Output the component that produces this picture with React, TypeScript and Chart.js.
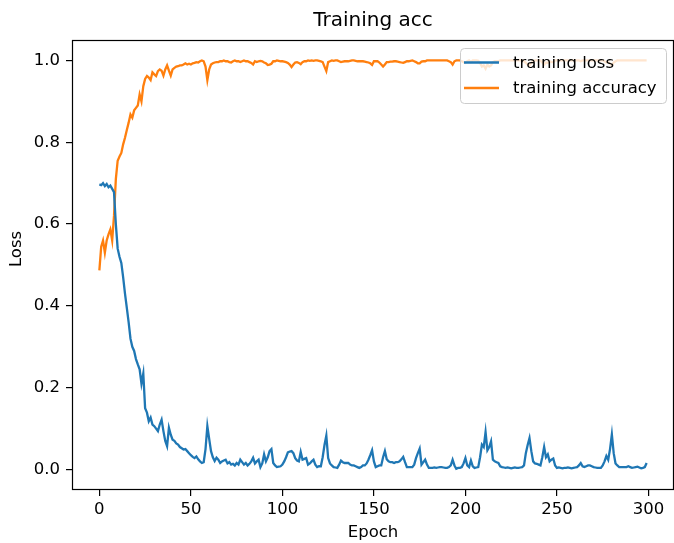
import React, { useEffect, useRef } from 'react';
import { Chart, registerables } from 'chart.js';

Chart.register(...registerables);

const epochs = Array.from({ length: 300 }, (_, i) => i);

const trainingLoss = [
  0.697, 0.695, 0.700, 0.693, 0.698, 0.690, 0.694, 0.686, 0.678, 0.600,
  0.540, 0.520, 0.505, 0.470, 0.430, 0.395, 0.360, 0.320, 0.300, 0.290,
  0.270, 0.257, 0.245, 0.210, 0.235, 0.150, 0.139, 0.118, 0.127, 0.110,
  0.106, 0.100, 0.094, 0.110, 0.122, 0.094, 0.070, 0.057, 0.102, 0.085,
  0.073, 0.070, 0.064, 0.061, 0.055, 0.052, 0.049, 0.050, 0.045, 0.040,
  0.035, 0.031, 0.028, 0.032, 0.025, 0.020, 0.016, 0.018, 0.050, 0.106,
  0.075, 0.045, 0.030, 0.021, 0.029, 0.024, 0.016, 0.020, 0.022, 0.024,
  0.015, 0.018, 0.012, 0.014, 0.010, 0.016, 0.012, 0.024, 0.018, 0.012,
  0.016, 0.010, 0.014, 0.020, 0.029, 0.015, 0.020, 0.024, 0.006, 0.015,
  0.037, 0.020, 0.030, 0.045, 0.050, 0.016, 0.010, 0.006, 0.007, 0.008,
  0.012, 0.020, 0.030, 0.042, 0.044, 0.045, 0.040, 0.028, 0.022, 0.020,
  0.043, 0.024, 0.026, 0.028, 0.012, 0.015, 0.020, 0.024, 0.012, 0.006,
  0.008, 0.008, 0.030, 0.060, 0.083, 0.028, 0.015, 0.010, 0.006, 0.005,
  0.004, 0.012, 0.022, 0.018, 0.016, 0.016, 0.016, 0.012, 0.010, 0.010,
  0.008, 0.006, 0.004, 0.006, 0.010, 0.010, 0.015, 0.024, 0.035, 0.047,
  0.020, 0.006, 0.008, 0.010, 0.010, 0.030, 0.045, 0.025, 0.020, 0.018,
  0.018, 0.016, 0.018, 0.018, 0.020, 0.025, 0.031, 0.018, 0.006, 0.006,
  0.006, 0.006, 0.012, 0.028, 0.040, 0.051, 0.012, 0.018, 0.024, 0.012,
  0.004, 0.004, 0.004, 0.005, 0.004, 0.005, 0.006, 0.006, 0.005, 0.004,
  0.004, 0.006, 0.010, 0.024, 0.010, 0.002, 0.004, 0.004, 0.006, 0.015,
  0.028, 0.010, 0.006, 0.022, 0.008, 0.004, 0.005, 0.006, 0.030, 0.061,
  0.055, 0.092, 0.047, 0.055, 0.069, 0.024, 0.020, 0.018, 0.016, 0.008,
  0.006, 0.005, 0.004, 0.005, 0.004, 0.003, 0.004, 0.005, 0.004, 0.004,
  0.005, 0.006, 0.010, 0.040, 0.060, 0.077, 0.045, 0.020, 0.015, 0.014,
  0.012, 0.010, 0.030, 0.055, 0.030, 0.037, 0.020, 0.024, 0.027, 0.010,
  0.004, 0.005, 0.004, 0.003, 0.004, 0.004, 0.005, 0.004, 0.003, 0.004,
  0.005, 0.006, 0.010, 0.016, 0.008, 0.006, 0.008, 0.010, 0.010, 0.008,
  0.006, 0.005, 0.004, 0.004, 0.004, 0.010, 0.020, 0.033, 0.024, 0.050,
  0.086, 0.040, 0.015, 0.010, 0.006, 0.006, 0.006, 0.006, 0.006, 0.008,
  0.006, 0.004, 0.005, 0.006, 0.007, 0.005, 0.003, 0.004, 0.006, 0.016,
];

const trainingAccuracy = [
  0.487, 0.545, 0.560, 0.530, 0.560, 0.575, 0.587, 0.560, 0.620, 0.710,
  0.755, 0.765, 0.774, 0.795, 0.811, 0.830, 0.848, 0.868, 0.860, 0.878,
  0.884, 0.890, 0.917, 0.900, 0.937, 0.955, 0.962, 0.958, 0.952, 0.971,
  0.966, 0.962, 0.974, 0.978, 0.975, 0.963, 0.978, 0.988, 0.975, 0.963,
  0.978, 0.982, 0.985, 0.986, 0.988, 0.988, 0.990, 0.993, 0.990, 0.992,
  0.990, 0.993, 0.994, 0.996, 0.995, 0.998, 1.000, 0.998, 0.985, 0.952,
  0.978, 0.990, 0.993, 0.995, 0.996, 0.996, 0.998, 0.998, 1.000, 0.998,
  0.998, 0.996, 0.995, 0.998, 1.000, 0.998, 0.998, 0.996, 0.998, 1.000,
  0.998, 0.998, 0.996, 0.994, 0.990, 0.998, 0.996, 0.998, 0.999, 0.998,
  0.995, 0.993, 0.989, 0.990, 0.992, 0.998, 0.998, 1.000, 0.999, 0.998,
  0.998, 0.997, 0.996, 0.994, 0.990, 0.984, 0.990, 0.995, 0.996, 0.994,
  0.991, 0.996, 0.998, 0.998, 1.000, 0.999, 1.000, 0.999, 1.000, 1.000,
  0.999, 0.998, 0.996, 0.985, 0.974, 0.996, 0.998, 1.000, 0.999, 1.000,
  1.000, 0.998, 0.996, 0.997, 0.998, 0.998, 0.998, 0.999, 1.000, 1.000,
  0.999, 0.998, 0.998, 0.998, 0.998, 0.997, 0.996, 0.995, 0.993, 0.989,
  0.998, 0.998, 0.998, 0.995, 0.990, 0.985, 0.990, 0.996, 0.996, 0.997,
  0.997, 0.998, 0.998, 0.997, 0.996, 0.995, 0.994, 0.996, 0.998, 0.998,
  0.999, 1.000, 0.998, 0.996, 0.993, 0.993, 0.997, 0.998, 0.998, 1.000,
  1.000, 1.000, 1.000, 1.000, 1.000, 1.000, 1.000, 1.000, 1.000, 1.000,
  1.000, 0.998, 0.996, 0.990, 0.998, 1.000, 1.000, 1.000, 0.998, 0.996,
  0.994, 0.998, 1.000, 0.996, 1.000, 1.000, 1.000, 0.999, 0.994, 0.985,
  0.988, 0.980, 0.990, 0.985, 0.988, 0.996, 0.998, 0.998, 0.998, 1.000,
  1.000, 1.000, 1.000, 1.000, 1.000, 1.000, 1.000, 1.000, 1.000, 1.000,
  1.000, 1.000, 0.998, 0.994, 0.990, 0.988, 0.994, 0.998, 1.000, 1.000,
  1.000, 1.000, 0.995, 0.990, 0.995, 0.994, 0.998, 0.996, 0.996, 1.000,
  1.000, 1.000, 1.000, 1.000, 1.000, 1.000, 1.000, 1.000, 1.000, 1.000,
  1.000, 1.000, 1.000, 0.998, 1.000, 1.000, 1.000, 1.000, 1.000, 1.000,
  1.000, 1.000, 1.000, 1.000, 1.000, 1.000, 0.998, 0.995, 0.996, 0.992,
  0.988, 0.995, 0.998, 1.000, 1.000, 1.000, 1.000, 1.000, 1.000, 1.000,
  1.000, 1.000, 1.000, 1.000, 1.000, 1.000, 1.000, 1.000, 1.000, 1.000,
];

const xTicks = [0, 50, 100, 150, 200, 250, 300];
const yTicks = [0, 0.2, 0.4, 0.6, 0.8, 1.0];
const chartTitle = 'Training acc';
const seriesNames = ['training loss', 'training accuracy'];
const xLabel = 'Epoch';
const yLabel = 'Loss';

const BLUE = '#1f77b4';
const ORANGE = '#ff7f0e';
const FAMILY = "'DejaVu Sans', sans-serif";
const TICK_SIZE = 16.5;

const decorPlugin = {
  id: 'decor',
  afterDatasetsDraw(chart: any) {
    const { ctx, chartArea } = chart;
    ctx.save();
    ctx.strokeStyle = '#000';
    ctx.lineWidth = 1.2;
    ctx.strokeRect(chartArea.left + 0.5, chartArea.top + 0.5, chartArea.right - chartArea.left - 1, chartArea.bottom - chartArea.top - 1);
    ctx.restore();
  },
  afterDraw(chart: any) {
    const { ctx, chartArea } = chart;
    ctx.save();
    // title
    ctx.fillStyle = '#000';
    ctx.font = `20px ${FAMILY}`;
    ctx.textAlign = 'center';
    ctx.textBaseline = 'middle';
    ctx.fillText(chartTitle, (chartArea.left + chartArea.right) / 2, 21);

    // y axis label
    ctx.save();
    ctx.translate(17, 249);
    ctx.rotate(-Math.PI / 2);
    ctx.font = `${TICK_SIZE}px ${FAMILY}`;
    ctx.textAlign = 'center';
    ctx.textBaseline = 'middle';
    ctx.fillText(yLabel, 0, 0);
    ctx.restore();

    // legend
    const bx = 460.5, by = 48.5, bw = 206, bh = 55, r = 4;
    ctx.beginPath();
    ctx.moveTo(bx + r, by);
    ctx.lineTo(bx + bw - r, by);
    ctx.quadraticCurveTo(bx + bw, by, bx + bw, by + r);
    ctx.lineTo(bx + bw, by + bh - r);
    ctx.quadraticCurveTo(bx + bw, by + bh, bx + bw - r, by + bh);
    ctx.lineTo(bx + r, by + bh);
    ctx.quadraticCurveTo(bx, by + bh, bx, by + bh - r);
    ctx.lineTo(bx, by + r);
    ctx.quadraticCurveTo(bx, by, bx + r, by);
    ctx.closePath();
    ctx.fillStyle = 'rgba(255,255,255,0.8)';
    ctx.fill();
    ctx.strokeStyle = '#cccccc';
    ctx.lineWidth = 1;
    ctx.stroke();

    const colors = [BLUE, ORANGE];
    const rows = [62.5, 88];
    ctx.font = `${TICK_SIZE}px ${FAMILY}`;
    ctx.textAlign = 'left';
    ctx.textBaseline = 'middle';
    seriesNames.forEach((name, i) => {
      ctx.strokeStyle = colors[i];
      ctx.lineWidth = 2.4;
      ctx.beginPath();
      ctx.moveTo(464, rows[i]);
      ctx.lineTo(499, rows[i]);
      ctx.stroke();
      ctx.fillStyle = '#000';
      ctx.fillText(name, 513, rows[i] + 1);
    });
    ctx.restore();
  },
};

export default function App() {
  const ref = useRef<HTMLCanvasElement | null>(null);

  useEffect(() => {
    if (!ref.current) return;
    const chart = new Chart(ref.current, {
      type: 'line',
      data: {
        labels: epochs,
        datasets: [
          {
            label: seriesNames[0],
            data: trainingLoss,
            borderColor: BLUE,
            backgroundColor: BLUE,
            borderWidth: 2.3,
            pointRadius: 0,
            tension: 0,
          },
          {
            label: seriesNames[1],
            data: trainingAccuracy,
            borderColor: ORANGE,
            backgroundColor: ORANGE,
            borderWidth: 2.3,
            pointRadius: 0,
            tension: 0,
          },
        ],
      },
      options: {
        animation: false,
        responsive: false,
        maintainAspectRatio: false,
        layout: { padding: { top: 40, left: 0, right: 0, bottom: 0 } },
        plugins: {
          legend: { display: false },
          title: { display: false },
          tooltip: { enabled: false },
        },
        scales: {
          x: {
            type: 'linear',
            min: -14.95,
            max: 313.95,
            afterFit: (s: any) => { s.height = 53; },
            afterBuildTicks: (s: any) => { s.ticks = xTicks.map((v) => ({ value: v })); },
            border: { display: false },
            grid: { drawOnChartArea: false, drawTicks: true, tickLength: 6, color: '#000', lineWidth: 1.2 },
            ticks: {
              color: '#000',
              font: { family: FAMILY, size: TICK_SIZE },
              padding: 4,
              maxRotation: 0,
              autoSkip: false,
              callback: (v: any) => String(v),
            },
            title: {
              display: true,
              text: xLabel,
              color: '#000',
              font: { family: FAMILY, size: TICK_SIZE },
              padding: { top: 0, bottom: 0 },
            },
          },
          y: {
            type: 'linear',
            min: -0.05,
            max: 1.05,
            afterFit: (s: any) => { s.width = 72; },
            afterBuildTicks: (s: any) => { s.ticks = yTicks.map((v) => ({ value: v })); },
            border: { display: false },
            grid: { drawOnChartArea: false, drawTicks: true, tickLength: 6, color: '#000', lineWidth: 1.2 },
            ticks: {
              color: '#000',
              font: { family: FAMILY, size: TICK_SIZE },
              padding: 6,
              autoSkip: false,
              callback: (v: any) => Number(v).toFixed(1),
            },
            title: { display: false },
          },
        },
      },
      plugins: [decorPlugin],
    } as any);
    return () => chart.destroy();
  }, []);

  return (
    <div style={{ position: 'absolute', left: 0, top: 0, width: 674, height: 543, background: '#fff' }}>
      <canvas ref={ref} width={674} height={543} style={{ display: 'block', width: 674, height: 543 }} />
    </div>
  );
}
